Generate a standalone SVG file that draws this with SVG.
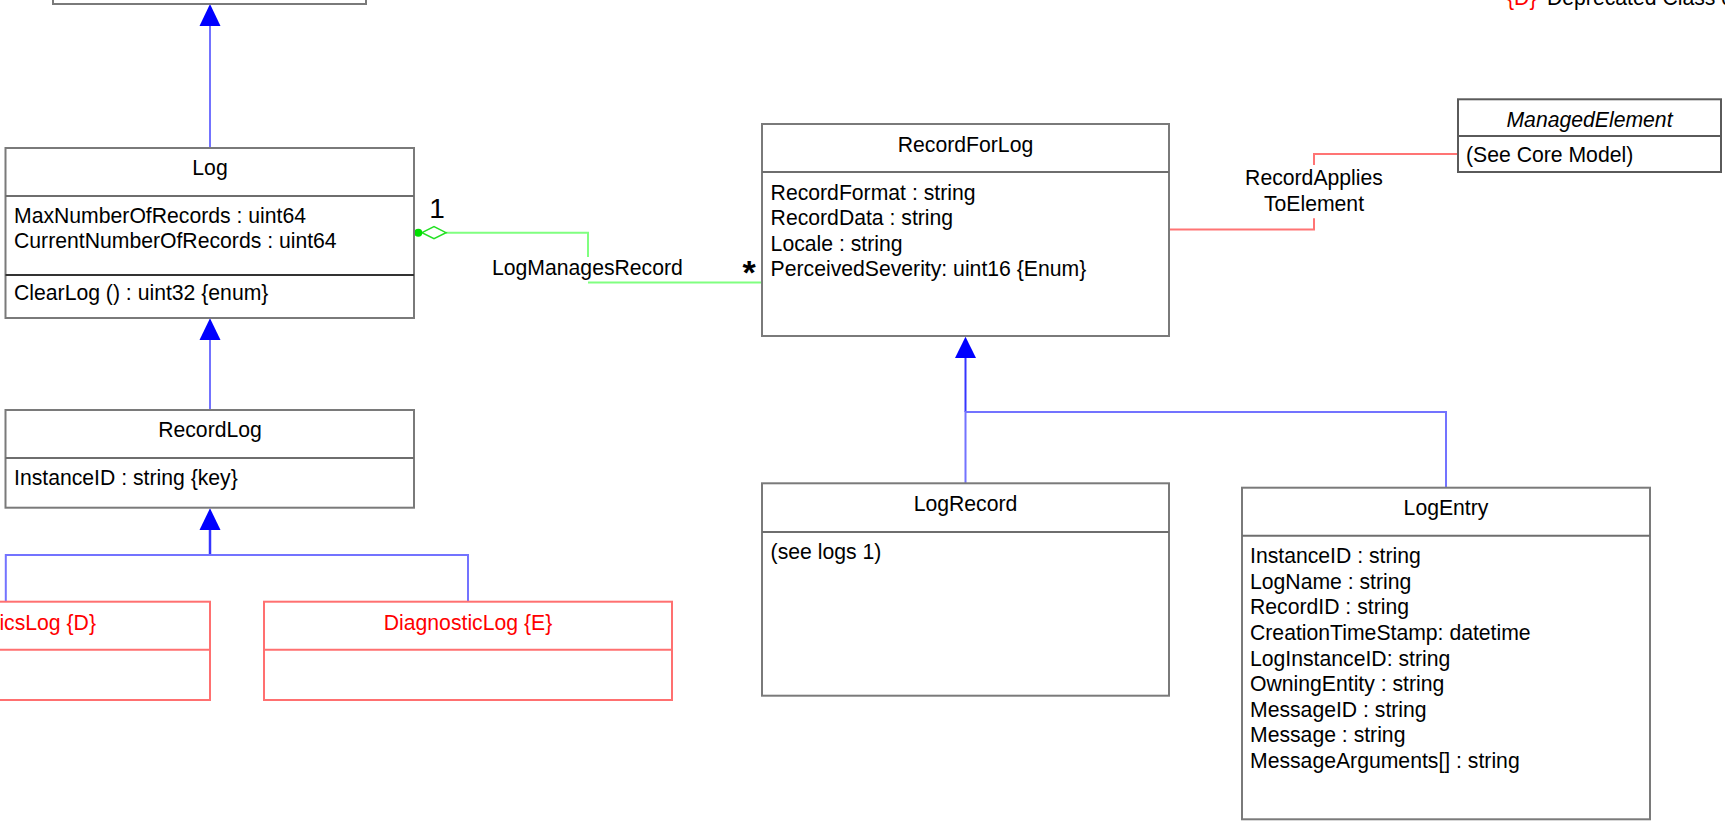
<svg xmlns="http://www.w3.org/2000/svg" width="1725" height="826" viewBox="0 0 1725 826">
<style>
text{font-family:"Liberation Sans",Arial,sans-serif;font-size:21.2px;fill:#000}
.t{text-anchor:middle}
.red{fill:#ff0000}
.box{fill:#fff;stroke:#7a7a7a;stroke-width:2}
.rbox{fill:#fff;stroke:#ff7070;stroke-width:2}
.sep{stroke:#6e6e6e;stroke-width:2}
.sepd{stroke:#333;stroke-width:2}
.rsep{stroke:#ff7070;stroke-width:2}
.gen{fill:none;stroke:#7373ff;stroke-width:2}
.gend{fill:none;stroke:#3535ff;stroke-width:2.5}
.head{fill:#0000ff}
.agg{fill:none;stroke:#80ff80;stroke-width:2}
.assoc{fill:none;stroke:#ff7474;stroke-width:2}
.big{font-size:28px}
.star{font-size:34px;font-weight:bold}
</style>
<rect width="1725" height="826" fill="#fff"/>

<g id="legend">
<text x="1507" y="5" class="red">{D}</text>
<text x="1547" y="5">Deprecated Class or Property</text>
</g>

<g id="connectors">
<line class="gen" x1="210" y1="26" x2="210" y2="148"/>
<polygon class="head" points="210,4 199.5,26 220.5,26"/>
<line class="gen" x1="210" y1="340" x2="210" y2="410"/>
<polygon class="head" points="210,318.3 199.5,340 220.5,340"/>
<polygon class="head" points="210,508.3 199.5,530 220.5,530"/>
<line class="gend" x1="210" y1="530" x2="210" y2="555"/>
<polyline class="gen" points="5.8,601.7 5.8,555 468,555 468,601.7"/>
<polygon class="head" points="965.5,336.7 955,358 976,358"/>
<line class="gend" x1="965.5" y1="358" x2="965.5" y2="412" style="stroke-width:2"/>
<polyline class="gen" points="965.5,483.3 965.5,412 1446,412 1446,487.7"/>
<polyline class="agg" points="446,232.7 588,232.7 588,257"/>
<line class="agg" x1="588" y1="282.5" x2="762" y2="282.5"/>
<polygon points="422,232.7 434,226.7 446,232.7 434,238.7" fill="#fff" stroke="#22e022" stroke-width="1.5"/>
<circle cx="418.3" cy="232.7" r="4" fill="#00e000"/>
<text x="437" y="218" class="t big">1</text>
<text x="749" y="284" class="t star">*</text>
<text x="492" y="275">LogManagesRecord</text>
<polyline class="assoc" points="1458,154 1314,154 1314,165"/>
<polyline class="assoc" points="1314,218.3 1314,229.5 1169,229.5"/>
<text x="1314" y="185" class="t">RecordApplies</text>
<text x="1314" y="210.5" class="t">ToElement</text>
</g>

<g id="top-class">
<rect class="box" x="53" y="-60" width="313" height="64"/>
</g>

<g id="Log">
<rect class="box" x="5.5" y="148" width="408.5" height="170"/>
<line class="sep" x1="5.5" y1="196" x2="414" y2="196"/>
<line class="sepd" x1="5.5" y1="275" x2="414" y2="275"/>
<text x="210" y="175" class="t">Log</text>
<text x="14" y="222.6">MaxNumberOfRecords : uint64</text>
<text x="14" y="248">CurrentNumberOfRecords : uint64</text>
<text x="14" y="300">ClearLog () : uint32 {enum}</text>
</g>

<g id="RecordLog">
<rect class="box" x="5.5" y="410" width="408.5" height="97.7"/>
<line class="sep" x1="5.5" y1="458" x2="414" y2="458"/>
<text x="210" y="436.7" class="t">RecordLog</text>
<text x="14" y="485">InstanceID : string {key}</text>
</g>

<g id="StatisticsLog">
<rect class="rbox" x="-174" y="601.7" width="384" height="98.3"/>
<line class="rsep" x1="-174" y1="649.7" x2="210" y2="649.7"/>
<text x="96" y="630" class="red" text-anchor="end">StatisticsLog {D}</text>
</g>

<g id="DiagnosticLog">
<rect class="rbox" x="264" y="601.7" width="408" height="98.3"/>
<line class="rsep" x1="264" y1="649.7" x2="672" y2="649.7"/>
<text x="468" y="630" class="t red">DiagnosticLog {E}</text>
</g>

<g id="RecordForLog">
<rect class="box" x="762" y="124" width="407" height="212"/>
<line class="sep" x1="762" y1="172" x2="1169" y2="172"/>
<text x="965.5" y="152" class="t">RecordForLog</text>
<text x="770.6" y="199.5">RecordFormat : string</text>
<text x="770.6" y="225">RecordData : string</text>
<text x="770.6" y="250.5">Locale : string</text>
<text x="770.6" y="276">PerceivedSeverity: uint16 {Enum}</text>
</g>

<g id="ManagedElement">
<rect class="box" x="1458" y="99.3" width="263" height="72.7" style="stroke:#5a5a5a"/>
<line class="sep" x1="1458" y1="136" x2="1721" y2="136" style="stroke:#5a5a5a"/>
<text x="1589.5" y="126.7" class="t" font-style="italic">ManagedElement</text>
<text x="1466" y="162">(See Core Model)</text>
</g>

<g id="LogRecord">
<rect class="box" x="762" y="483.3" width="407" height="212.4"/>
<line class="sep" x1="762" y1="532" x2="1169" y2="532"/>
<text x="965.5" y="511" class="t">LogRecord</text>
<text x="770.6" y="559.3">(see logs 1)</text>
</g>

<g id="LogEntry">
<rect class="box" x="1242" y="487.7" width="408" height="331.6"/>
<line class="sep" x1="1242" y1="535.7" x2="1650" y2="535.7"/>
<text x="1446" y="515" class="t">LogEntry</text>
<text x="1250" y="563.3">InstanceID : string</text>
<text x="1250" y="589">LogName : string</text>
<text x="1250" y="614.3">RecordID : string</text>
<text x="1250" y="640">CreationTimeStamp: datetime</text>
<text x="1250" y="665.7">LogInstanceID: string</text>
<text x="1250" y="691">OwningEntity : string</text>
<text x="1250" y="716.7">MessageID : string</text>
<text x="1250" y="741.7">Message : string</text>
<text x="1250" y="767.7">MessageArguments[] : string</text>
</g>
</svg>
